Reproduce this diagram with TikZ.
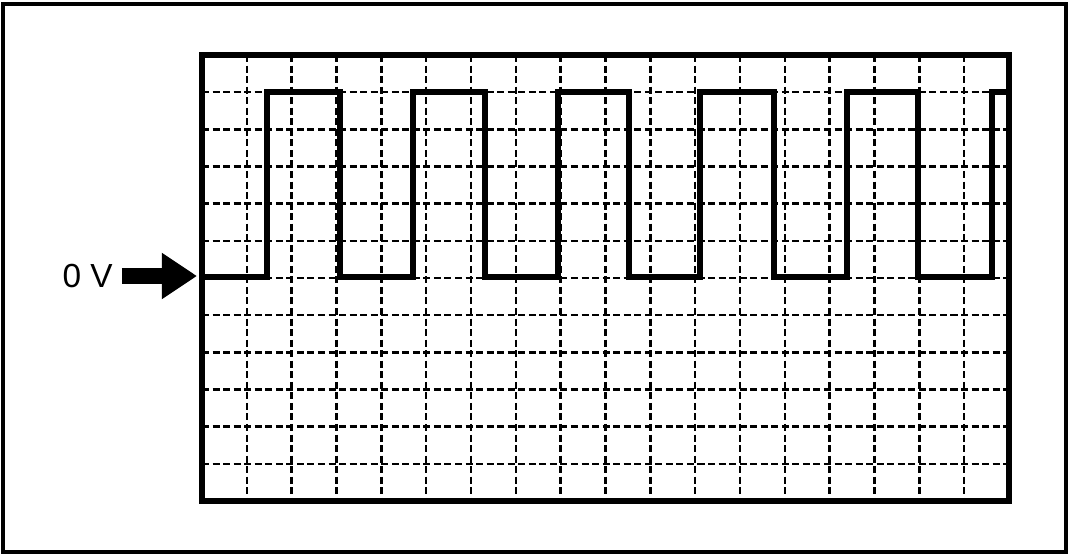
\documentclass[tikz,border=0pt]{standalone}
\usepackage{fontspec}
\setmainfont{Liberation Sans}
\usetikzlibrary{arrows.meta,positioning}

\tikzset{
  gridline/.style={dash pattern=on 4pt off 2pt, line width=1.4pt},
  screen/.style={line width=3pt},
  signal/.style={line width=3.2pt, line join=miter},
  bigarrow/.style={line width=9.5pt, shorten <=5pt, -{Triangle[length=20pt,width=25pt]}},
}

\begin{document}
\begin{tikzpicture}[x=0.02cm,y=-0.02cm]
  \useasboundingbox (0,0) rectangle (1070,557);
  \draw[line width=1.8pt] (3,4) rectangle (1066,552);
  % grid of the screen
  \foreach \i in {1,...,17}
    \draw[gridline] ({202+44.83*\i},55) -- ({202+44.83*\i},501);
  \foreach \j in {1,...,11}
    \draw[gridline] (202,{55+37.17*\j}) -- (1009,{55+37.17*\j});
  \draw[screen] (202,55) rectangle (1009,501);
  % square wave
  \draw[signal] (202,277) -- (267,277) -- (267,92) -- (340,92) -- (340,277)
    -- (413,277) -- (413,92) -- (485,92) -- (485,277)
    -- (558,277) -- (558,92) -- (629,92) -- (629,277)
    -- (700,277) -- (700,92) -- (774,92) -- (774,277)
    -- (847,277) -- (847,92) -- (918,92) -- (918,277)
    -- (992,277) -- (992,92) -- (1009,92);
  % zero level marker
  \node[anchor=east, inner sep=0pt, font=\fontsize{19}{21}\selectfont] (zv) at (113,276) {0 V};
  \coordinate (tip) at (197,276);
  \draw[bigarrow] (zv) -- (tip);
\end{tikzpicture}
\end{document}
